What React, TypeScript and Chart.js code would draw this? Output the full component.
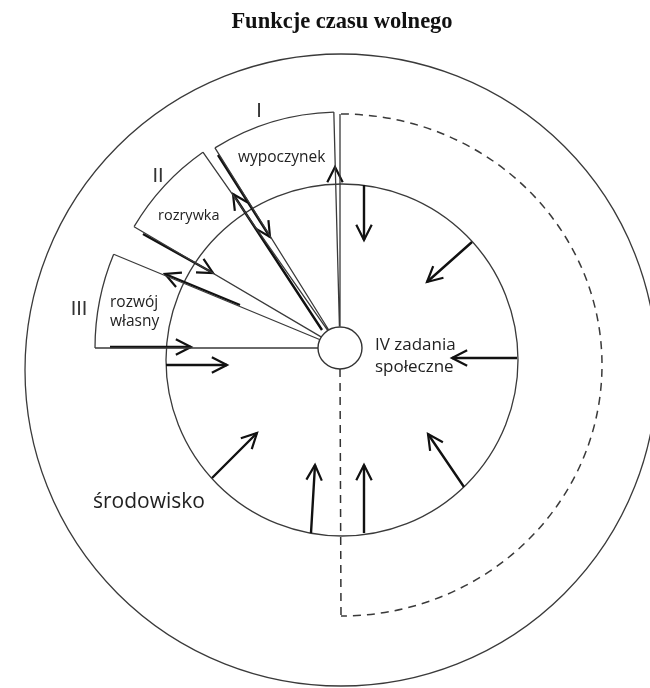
import React, { useEffect, useRef } from 'react';
import { Chart, registerables } from 'chart.js';

Chart.register(...registerables);

const CANVAS_W = 650;
const CANVAS_H = 688;

const TITLE = 'Funkcje czasu wolnego';

// Rings: outer "środowisko" ring, inner circle, central hub
const ringCx = [341, 342, 340];
const ringCy = [370, 360, 348];
const ringRx = [316, 176, 22];
const ringRy = [316, 176, 21];

const hubX = 340;
const hubY = 348;
const hubR = 21.5;

// Sectors I, II, III (degrees, counter-clockwise from east, around the hub)
const sectorFromDeg = [91.5, 125, 157.5];
const sectorToDeg = [122, 149.5, 180];
const sectorRadius = [236, 239, 245];

// Boundary of IV: solid line up from the hub, dashed arc, dashed drop
const ivLineDeg = 90;
const ivLineRadius = 234;
const ivArcCx = 341;
const ivArcCy = 365;
const ivArcRx = 261;
const ivArcRy = 251;
const ivDropX = [340, 341];
const ivDropY = [369, 616];

// Arrows (from -> to, head at "to")
const arrowFromX = [364, 472, 517, 464, 364, 311, 212, 166, 110, 143, 240, 218, 322];
const arrowFromY = [185, 242, 358, 487, 533, 533, 478, 365, 347, 234, 305, 155, 330];
const arrowToX = [364, 427, 452, 428, 364, 315, 257, 227, 191, 213, 165, 270, 233];
const arrowToY = [240, 282, 358, 434, 465, 465, 433, 365, 347, 273, 274, 237, 194];

// Arrow head sitting on the double line of sector I
const headFromX = [335];
const headFromY = [260];
const headToX = [335];
const headToY = [167];

// Text labels
const labelTexts = ['wypoczynek', 'rozrywka', 'rozwój', 'własny', 'IV zadania', 'społeczne', 'środowisko'];
const labelX = [238, 158, 110, 110, 375, 375, 93];
const labelY = [162, 220, 307, 326, 350, 372, 508];
const labelSize = [15.5, 14.5, 15.5, 15.5, 17, 17, 21];

const numeralTexts = ['I', 'II', 'III'];
const numeralX = [259, 158, 79];
const numeralY = [117, 182, 315];

const GAP = { x: NaN, y: NaN };

function polar(deg: number, r: number) {
  const a = (deg * Math.PI) / 180;
  return { x: hubX + r * Math.cos(a), y: hubY - r * Math.sin(a) };
}

function buildThinLines() {
  const pts: any[] = [];
  for (let i = 0; i < sectorFromDeg.length; i++) {
    pts.push(polar(sectorFromDeg[i], hubR), polar(sectorFromDeg[i], sectorRadius[i]), GAP);
    pts.push(polar(sectorToDeg[i], hubR), polar(sectorToDeg[i], sectorRadius[i]), GAP);
  }
  pts.push(polar(ivLineDeg, hubR), polar(ivLineDeg, ivLineRadius), GAP);
  return pts;
}

function buildShafts() {
  const pts: any[] = [];
  for (let i = 0; i < arrowFromX.length; i++) {
    pts.push({ x: arrowFromX[i], y: arrowFromY[i] }, { x: arrowToX[i], y: arrowToY[i] }, GAP);
  }
  return pts;
}

function headPoints(fx: number, fy: number, tx: number, ty: number) {
  const L = 17;
  const th = (27 * Math.PI) / 180;
  const dx = tx - fx;
  const dy = ty - fy;
  const len = Math.hypot(dx, dy);
  const ux = dx / len;
  const uy = dy / len;
  const b = (s: number) => {
    const c = Math.cos(s * th);
    const sn = Math.sin(s * th);
    const rx = ux * c - uy * sn;
    const ry = ux * sn + uy * c;
    return { x: tx - L * rx, y: ty - L * ry };
  };
  return [b(1), { x: tx, y: ty }, b(-1), GAP];
}

function buildHeads() {
  const pts: any[] = [];
  for (let i = 0; i < arrowFromX.length; i++) {
    pts.push(...headPoints(arrowFromX[i], arrowFromY[i], arrowToX[i], arrowToY[i]));
  }
  for (let i = 0; i < headFromX.length; i++) {
    pts.push(...headPoints(headFromX[i], headFromY[i], headToX[i], headToY[i]));
  }
  return pts;
}

const diagramPlugin = {
  id: 'diagramShapes',
  beforeDatasetsDraw(chart: any) {
    const { ctx } = chart;
    const sx = chart.scales.x;
    const sy = chart.scales.y;
    const px = (v: number) => sx.getPixelForValue(v);
    const py = (v: number) => sy.getPixelForValue(v);
    ctx.save();
    ctx.strokeStyle = '#3a3a3a';
    ctx.lineWidth = 1.3;
    // outer and inner rings
    for (let i = 0; i < 2; i++) {
      const cx = px(ringCx[i]);
      const cy = py(ringCy[i]);
      ctx.beginPath();
      ctx.ellipse(cx, cy, Math.abs(px(ringCx[i] + ringRx[i]) - cx), Math.abs(py(ringCy[i] + ringRy[i]) - cy), 0, 0, Math.PI * 2);
      ctx.stroke();
    }
    // sector arcs
    for (let i = 0; i < sectorFromDeg.length; i++) {
      const cx = px(hubX);
      const cy = py(hubY);
      const r = Math.abs(px(hubX + sectorRadius[i]) - cx);
      ctx.beginPath();
      ctx.arc(cx, cy, r, (-sectorToDeg[i] * Math.PI) / 180, (-sectorFromDeg[i] * Math.PI) / 180);
      ctx.stroke();
    }
    // dashed arc of IV
    ctx.setLineDash([8, 6]);
    ctx.lineWidth = 1.5;
    const acx = px(ivArcCx);
    const acy = py(ivArcCy);
    ctx.beginPath();
    ctx.ellipse(acx, acy, Math.abs(px(ivArcCx + ivArcRx) - acx), Math.abs(py(ivArcCy + ivArcRy) - acy), 0, -Math.PI / 2, Math.PI / 2);
    ctx.stroke();
    ctx.restore();
  },
  afterDatasetsDraw(chart: any) {
    const { ctx } = chart;
    const sx = chart.scales.x;
    const sy = chart.scales.y;
    const px = (v: number) => sx.getPixelForValue(v);
    const py = (v: number) => sy.getPixelForValue(v);
    ctx.save();
    // hub
    const hx = px(ringCx[2]);
    const hy = py(ringCy[2]);
    ctx.beginPath();
    ctx.ellipse(hx, hy, Math.abs(px(ringCx[2] + ringRx[2]) - hx), Math.abs(py(ringCy[2] + ringRy[2]) - hy), 0, 0, Math.PI * 2);
    ctx.fillStyle = '#fff';
    ctx.fill();
    ctx.strokeStyle = '#333';
    ctx.lineWidth = 1.4;
    ctx.stroke();

    // title
    ctx.fillStyle = '#111';
    ctx.textAlign = 'center';
    ctx.textBaseline = 'alphabetic';
    ctx.font = 'bold 22.5px "Liberation Serif", "Times New Roman", serif';
    ctx.fillText(TITLE, px(342), py(28));

    // labels
    ctx.fillStyle = '#222';
    ctx.textAlign = 'left';
    for (let i = 0; i < labelTexts.length; i++) {
      ctx.font = `${labelSize[i]}px "Open Sans", sans-serif`;
      ctx.fillText(labelTexts[i], px(labelX[i]), py(labelY[i]));
    }
    ctx.textAlign = 'center';
    ctx.fillStyle = '#333';
    ctx.font = '20px "Liberation Sans", sans-serif';
    for (let i = 0; i < numeralTexts.length; i++) {
      ctx.fillText(numeralTexts[i], px(numeralX[i]), py(numeralY[i]));
    }
    ctx.restore();
  },
};

export default function App() {
  const canvasRef = useRef<HTMLCanvasElement | null>(null);

  useEffect(() => {
    const canvas = canvasRef.current;
    if (!canvas) return;
    const chart = new Chart(canvas, {
      type: 'scatter',
      data: {
        datasets: [
          {
            label: 'sector edges',
            data: buildThinLines(),
            showLine: true,
            borderColor: '#3a3a3a',
            borderWidth: 1.3,
            pointRadius: 0,
            spanGaps: false,
          },
          {
            label: 'IV drop',
            data: [
              { x: ivDropX[0], y: ivDropY[0] },
              { x: ivDropX[1], y: ivDropY[1] },
            ],
            showLine: true,
            borderColor: '#333',
            borderWidth: 1.5,
            borderDash: [8, 6],
            pointRadius: 0,
          },
          {
            label: 'arrow shafts',
            data: buildShafts(),
            showLine: true,
            borderColor: '#111',
            borderWidth: 2.4,
            pointRadius: 0,
            spanGaps: false,
          },
          {
            label: 'arrow heads',
            data: buildHeads(),
            showLine: true,
            borderColor: '#111',
            borderWidth: 2.2,
            borderJoinStyle: 'miter',
            pointRadius: 0,
            spanGaps: false,
          },
        ],
      },
      options: {
        animation: false,
        responsive: true,
        maintainAspectRatio: false,
        layout: { padding: 0 },
        plugins: {
          legend: { display: false },
          tooltip: { enabled: false },
          title: { display: false },
        },
        elements: { line: { tension: 0 }, point: { radius: 0 } },
        scales: {
          x: { type: 'linear', min: 0, max: CANVAS_W, display: false },
          y: { type: 'linear', min: 0, max: CANVAS_H, reverse: true, display: false },
        },
      },
      plugins: [diagramPlugin],
    } as any);
    return () => chart.destroy();
  }, []);

  return (
    <div style={{ position: 'absolute', left: 0, top: 0, width: CANVAS_W, height: CANVAS_H, background: '#fff' }}>
      <canvas ref={canvasRef} />
    </div>
  );
}
